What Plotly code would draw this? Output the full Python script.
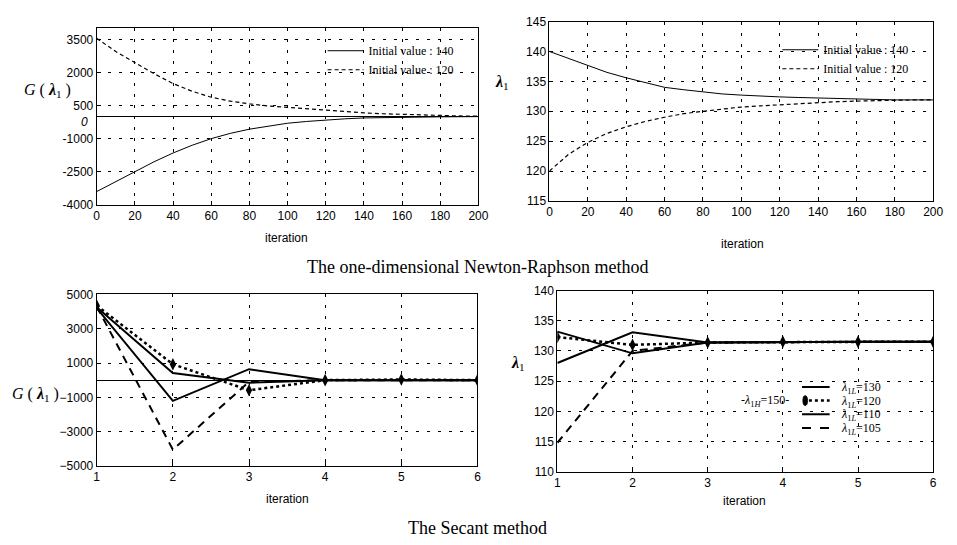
import plotly.graph_objects as go

# ---------------- data ----------------
nr_iter = [0, 10, 20, 30, 40, 50, 60, 70, 80, 90, 100, 110, 120, 130, 140, 150, 160, 170, 180, 190, 200]
g_init140 = [-3400, -2950, -2500, -2050, -1650, -1300, -1000, -760, -570, -420, -300,
             -220, -150, -100, -60, -40, -25, -15, -10, -5, 0]
g_init120 = [3550, 2950, 2450, 1950, 1500, 1150, 880, 700, 580, 480, 420,
             350, 290, 230, 170, 130, 100, 70, 50, 30, 20]
lam_init140 = [140.0, 138.8, 137.6, 136.5, 135.6, 134.8, 134.0, 133.6, 133.2, 132.9, 132.7,
               132.5, 132.4, 132.3, 132.2, 132.1, 132.0, 132.0, 131.9, 131.9, 131.9]
lam_init120 = [120.0, 122.8, 124.8, 126.3, 127.4, 128.3, 129.0, 129.6, 130.0, 130.4, 130.7,
               130.9, 131.1, 131.3, 131.5, 131.6, 131.7, 131.8, 131.8, 131.9, 131.9]

sec_iter = [1, 2, 3, 4, 5, 6]
sec_g_130 = [4250, 415, -150, 0, 0, 0]
sec_g_120 = [4350, 930, -590, 0, 40, 0]
sec_g_110 = [4200, -1210, 640, 0, 0, 0]
sec_g_105 = [4300, -4050, -100, 0, 0, 0]
sec_l_130 = [133.2, 129.6, 131.4, 131.5, 131.5, 131.5]
sec_l_120 = [132.3, 131.0, 131.4, 131.5, 131.5, 131.5]
sec_l_110 = [128.0, 133.1, 131.4, 131.5, 131.5, 131.5]
sec_l_105 = [114.8, 130.0, 131.4, 131.5, 131.5, 131.5]

sec_labels = ["<i>λ</i><sub>1<i>L</i></sub>=130", "<i>λ</i><sub>1<i>L</i></sub>=120",
              "<i>λ</i><sub>1<i>L</i></sub>=110", "<i>λ</i><sub>1<i>L</i></sub>=105"]

nr_xticks = [0, 20, 40, 60, 80, 100, 120, 140, 160, 180, 200]
g_nr_yticks = [-4000, -2500, -1000, 0, 500, 2000, 3500]
g_nr_yticktext = ["-4000", "-2500", "-1000", "", "500", "2000", "3500"]
lam_nr_yticks = [115, 120, 125, 130, 135, 140, 145]
g_sec_yticks = [-5000, -3000, -1000, 1000, 3000, 5000]
lam_sec_yticks = [110, 115, 120, 125, 130, 135, 140]

# ---------------- layout helpers ----------------
W, H = 957, 545
def xd(a, b):
    return [a / W, b / W]
def yd(top, bottom):
    return [1 - bottom / H, 1 - top / H]
def px(x):
    return x / W
def py(y):
    return 1 - y / H

SANS = "Liberation Sans, Arial, sans-serif"
SERIF = "Liberation Serif, Times New Roman, serif"

def axis_style(**kw):
    d = dict(showline=True, mirror=True, linecolor="black", linewidth=1,
             ticks="inside", ticklen=4, tickcolor="black",
             showgrid=True, gridcolor="black", gridwidth=1, griddash="3px,8px",
             tickfont=dict(family=SANS, size=12, color="black"),
             zeroline=False)
    d.update(kw)
    return d

fig = go.Figure()

# top-left
fig.add_trace(go.Scatter(x=nr_iter, y=g_init140, mode="lines", name="Initial value : 140",
                         line=dict(color="black", width=1), xaxis="x", yaxis="y", legend="legend"))
fig.add_trace(go.Scatter(x=nr_iter, y=g_init120, mode="lines", name="Initial value : 120",
                         line=dict(color="black", width=1.2, dash="4px,3px"), xaxis="x", yaxis="y", legend="legend"))
# top-right
fig.add_trace(go.Scatter(x=nr_iter, y=lam_init140, mode="lines", name="Initial value : 140",
                         line=dict(color="black", width=1), xaxis="x2", yaxis="y2", legend="legend2"))
fig.add_trace(go.Scatter(x=nr_iter, y=lam_init120, mode="lines", name="Initial value : 120",
                         line=dict(color="black", width=1.2, dash="4px,3px"), xaxis="x2", yaxis="y2", legend="legend2"))

# bottom-left
fig.add_trace(go.Scatter(x=sec_iter, y=sec_g_130, mode="lines", showlegend=False,
                         line=dict(color="black", width=2), xaxis="x3", yaxis="y3"))
fig.add_trace(go.Scatter(x=sec_iter, y=sec_g_120, mode="lines+markers", showlegend=False,
                         line=dict(color="black", width=2.5, dash="dot"),
                         marker=dict(symbol="diamond-tall", size=9, color="black"), xaxis="x3", yaxis="y3"))
fig.add_trace(go.Scatter(x=sec_iter, y=sec_g_110, mode="lines", showlegend=False,
                         line=dict(color="black", width=2), xaxis="x3", yaxis="y3"))
fig.add_trace(go.Scatter(x=sec_iter, y=sec_g_105, mode="lines", showlegend=False,
                         line=dict(color="black", width=2, dash="8px,6px"), xaxis="x3", yaxis="y3"))

# bottom-right (legend drawn compactly below)
fig.add_trace(go.Scatter(x=sec_iter, y=sec_l_130, mode="lines", name=sec_labels[0], showlegend=False,
                         line=dict(color="black", width=2), xaxis="x4", yaxis="y4"))
fig.add_trace(go.Scatter(x=sec_iter, y=sec_l_120, mode="lines+markers", name=sec_labels[1], showlegend=False,
                         line=dict(color="black", width=2.5, dash="dot"),
                         marker=dict(symbol="diamond-tall", size=9, color="black"),
                         xaxis="x4", yaxis="y4"))
fig.add_trace(go.Scatter(x=sec_iter, y=sec_l_110, mode="lines", name=sec_labels[2], showlegend=False,
                         line=dict(color="black", width=2), xaxis="x4", yaxis="y4"))
fig.add_trace(go.Scatter(x=sec_iter, y=sec_l_105, mode="lines", name=sec_labels[3], showlegend=False,
                         line=dict(color="black", width=2, dash="8px,6px"), xaxis="x4", yaxis="y4"))

legend_common = dict(bgcolor="rgba(255,255,255,0)", borderwidth=0, itemwidth=36,
                     xanchor="left", yanchor="top", tracegroupgap=0)

fig.update_layout(
    width=W, height=H, margin=dict(l=0, r=0, t=0, b=0),
    paper_bgcolor="white", plot_bgcolor="white",
    xaxis=axis_style(domain=xd(95, 482), range=[0, 200], tickvals=nr_xticks, anchor="y"),
    yaxis=axis_style(domain=yd(22, 203), range=[-4000, 4000], tickvals=g_nr_yticks,
                     ticktext=g_nr_yticktext, anchor="x",
                     zeroline=True, zerolinecolor="black", zerolinewidth=1),
    xaxis2=axis_style(domain=xd(554, 943), range=[0, 200], tickvals=nr_xticks, anchor="y2"),
    yaxis2=axis_style(domain=yd(15, 199), range=[115, 145], tickvals=lam_nr_yticks, anchor="x2"),
    xaxis3=axis_style(domain=xd(95, 481), range=[1, 6], tickvals=sec_iter, anchor="y3"),
    yaxis3=axis_style(domain=yd(295, 471), range=[-5000, 5000], tickvals=g_sec_yticks, anchor="x3",
                      zeroline=True, zerolinecolor="black", zerolinewidth=1),
    xaxis4=axis_style(domain=xd(562, 943), range=[1, 6], tickvals=sec_iter, anchor="y4"),
    yaxis4=axis_style(domain=yd(291, 477), range=[110, 140], tickvals=lam_sec_yticks, anchor="x4"),
    legend=dict(x=px(324), y=py(30), font=dict(family=SERIF, size=12, color="black"), **legend_common),
    legend2=dict(x=px(785), y=py(29), font=dict(family=SERIF, size=12, color="black"), **legend_common),
)

ann = []
def add_text(x, y, text, size=12, family=SANS, xanchor="center"):
    ann.append(dict(x=px(x), y=py(y), xref="paper", yref="paper", text=text, showarrow=False,
                    font=dict(family=family, size=size, color="black"), xanchor=xanchor, yanchor="middle"))

add_text(287, 237, "iteration")
add_text(750, 243, "iteration")
add_text(288, 505, "iteration")
add_text(752, 507, "iteration")
add_text(88, 118, "<i>0</i>", xanchor="right")
add_text(45, 86, "<i>G</i> ( <b><i>λ</i></b><sub>1</sub> )", size=16, family=SERIF)
add_text(506, 77, "<b><i>λ</i></b><sub>1</sub>", size=16, family=SERIF)
add_text(33, 398, "<i>G</i> ( <b><i>λ</i></b><sub>1</sub> )", size=16, family=SERIF)
add_text(522, 366, "<b><i>λ</i></b><sub>1</sub>", size=16, family=SERIF)
add_text(773, 404, "-<i>λ</i><sub>1<i>H</i></sub>=150-", size=12, family=SERIF)
add_text(481, 267, "The one-dimensional Newton-Raphson method", size=18, family=SERIF)
add_text(481, 535, "The Secant method", size=18, family=SERIF)

# compact legend for the secant lambda panel
shapes = []
leg_rows = [390, 404, 418, 432]
leg_dash = ["solid", "dot", "solid", "dash"]
for i, lab in enumerate(sec_labels):
    yrow = leg_rows[i]
    x0 = 817 if i == 1 else 810
    shapes.append(dict(type="line", xref="paper", yref="paper", x0=px(x0), x1=px(838),
                       y0=py(yrow), y1=py(yrow),
                       line=dict(color="black", width=2.5 if i == 1 else 2, dash=leg_dash[i])))
    add_text(848, yrow + 1, lab, size=12, family=SERIF, xanchor="left")
shapes.append(dict(type="circle", xref="paper", yref="paper", x0=px(811), x1=px(815.5),
                   y0=py(409), y1=py(399), fillcolor="black", line=dict(color="black", width=1)))

fig.update_layout(annotations=ann, shapes=shapes)

fig.write_html("out.html",
               config={"displayModeBar": False},
               post_script="document.body.style.margin='0px';"
                           "document.body.style.overflow='hidden';"
                           "document.documentElement.style.overflow='hidden';")
